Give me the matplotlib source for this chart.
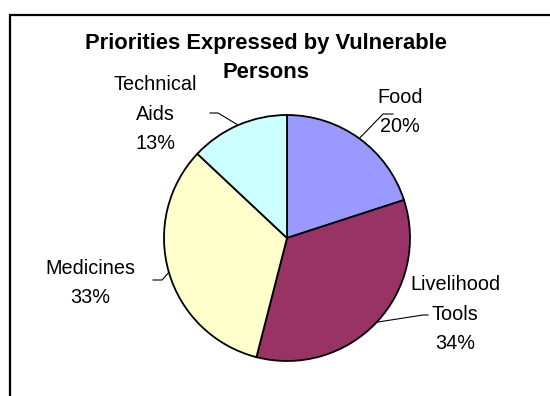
import numpy as np
import matplotlib.pyplot as plt
from matplotlib.patches import Rectangle

plt.rcParams["font.family"] = ["Liberation Sans", "DejaVu Sans"]

categories = ["Food", "Livelihood Tools", "Medicines", "Technical Aids"]
shares = [20, 34, 33, 13]
colors = ["#9999FF", "#993366", "#FFFFCC", "#CCFFFF"]
title_lines = ["Priorities Expressed by Vulnerable", "Persons"]

W, H = 550, 396
cx, cy, R = 287, 238, 123  # pie centre / radius in pixels


def px(x, y):
    # pixel (from top-left) -> pie data coords
    return (x - cx) / R, (cy - y) / R


fig = plt.figure(figsize=(W / 100, H / 100), dpi=100)
ax = fig.add_axes([(cx - R) / W, (H - cy - R) / H, 2 * R / W, 2 * R / H])
wedges, _ = ax.pie(shares, colors=colors, startangle=90, counterclock=False,
                   wedgeprops=dict(edgecolor="black", linewidth=1.3))
ax.set_xlim(-1, 1)
ax.set_ylim(-1, 1)
ax.axis("off")

# label text positions (pixel centres) and leader line elbows
label_pos = [(400, 112), (455, 314), (90, 283), (155, 114)]
elbows = [[(383, 114), (393, 114)],
          [(423, 315), (428, 315)],
          [(162, 280), (153, 280)],
          [(218, 113), (210, 113)]]

for w, cat, s, lp, el in zip(wedges, categories, shares, label_pos, elbows):
    mid = np.deg2rad((w.theta1 + w.theta2) / 2)
    pts = [(np.cos(mid), np.sin(mid))] + [px(*p) for p in el]
    xs, ys = zip(*pts)
    ax.plot(xs, ys, color="black", lw=0.8, clip_on=False)
    txt = cat.replace(" ", "\n") + "\n%d%%" % s
    ax.text(*px(*lp), txt, ha="center", va="center", fontsize=14.3,
            linespacing=1.72, clip_on=False)

# title, one text per line
for i, line in enumerate(title_lines):
    fig.text(266 / W, 1 - (43 + 30 * i) / H, line, ha="center", va="center",
             fontsize=15.8, fontweight="bold")

fig.patches.append(Rectangle((9.5 / W, -0.2), 1, 1.2 - 14.5 / H,
                             transform=fig.transFigure, fill=False,
                             edgecolor="black", linewidth=1.6))

fig.savefig("out.png", dpi=100)
